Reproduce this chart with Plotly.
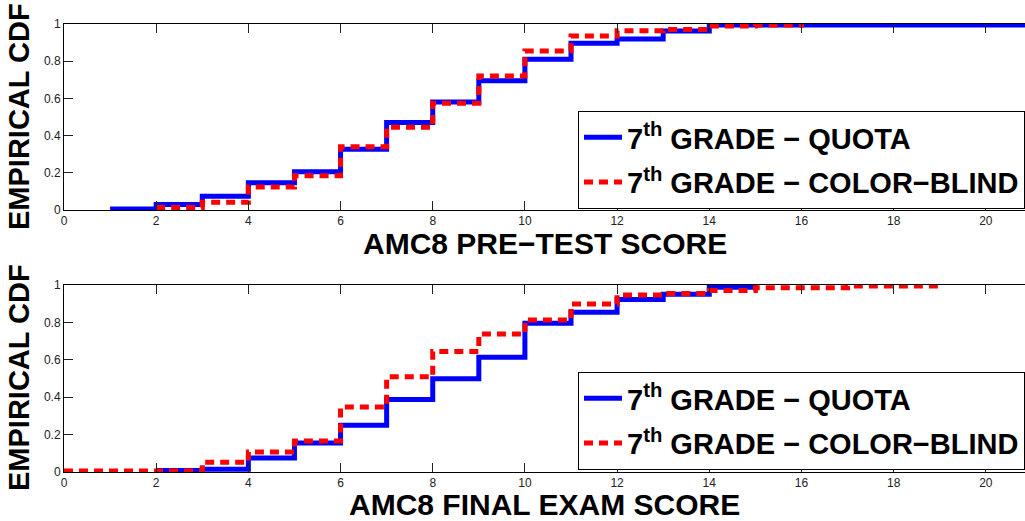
import plotly.graph_objects as go

# Empirical CDF step data (score where the step occurs, cumulative fraction after it)
pre_quota_x = [1, 2, 3, 4, 5, 6, 7, 8, 9, 10, 11, 12, 13, 14, 21]
pre_quota_y = [0.005, 0.03, 0.074, 0.147, 0.206, 0.326, 0.47, 0.58, 0.695, 0.81, 0.896, 0.919, 0.962, 0.995, 0.995]

pre_blind_x = [2, 3, 4, 5, 6, 7, 8, 9, 10, 11, 12, 13, 14, 15, 16]
pre_blind_y = [0.014, 0.041, 0.124, 0.184, 0.34, 0.445, 0.574, 0.72, 0.855, 0.935, 0.964, 0.971, 0.989, 0.995, 1.0]

final_quota_x = [2, 3, 4, 5, 6, 7, 8, 9, 10, 11, 12, 13, 14, 15]
final_quota_y = [0.008, 0.015, 0.075, 0.155, 0.25, 0.388, 0.498, 0.613, 0.795, 0.854, 0.923, 0.95, 0.988, 1.0]

final_blind_x = [0, 3, 4, 5, 6, 7, 8, 9, 10, 11, 12, 13, 14, 15, 17, 19]
final_blind_y = [0.005, 0.052, 0.107, 0.166, 0.348, 0.509, 0.645, 0.738, 0.813, 0.898, 0.946, 0.955, 0.97, 0.985, 0.995, 1.0]

x_ticks = [0, 2, 4, 6, 8, 10, 12, 14, 16, 18, 20]
y_ticks = [0, 0.2, 0.4, 0.6, 0.8, 1]
y_tick_text = ["0", "0.2", "0.4", "0.6", "0.8", "1"]

series_names = ["7<sup>th</sup> GRADE \u2212 QUOTA", "7<sup>th</sup> GRADE \u2212 COLOR\u2212BLIND"]
x_titles = ["AMC8 PRE\u2212TEST SCORE", "AMC8 FINAL EXAM SCORE"]
y_title = "EMPIRICAL CDF"

W, H = 1025, 521
FONT = "Liberation Sans, Arial, Helvetica, sans-serif"
BLUE = "#0000ff"
RED = "#ff0000"

fig = go.Figure()

panels = [
    (pre_quota_x, pre_quota_y, pre_blind_x, pre_blind_y, "x", "y", "legend"),
    (final_quota_x, final_quota_y, final_blind_x, final_blind_y, "x2", "y2", "legend2"),
]
for i, (qx, qy, bx, by, xa, ya, lg) in enumerate(panels):
    fig.add_trace(go.Scatter(
        x=qx, y=qy, mode="lines", line=dict(color=BLUE, width=5, shape="hv"),
        name=series_names[0], xaxis=xa, yaxis=ya, legend=lg, legendgroup="q%d" % i,
    ))
    fig.add_trace(go.Scatter(
        x=bx, y=by, mode="lines", line=dict(color=RED, width=5, shape="hv", dash="9px,6px"),
        name=series_names[1], xaxis=xa, yaxis=ya, legend=lg, legendgroup="b%d" % i,
    ))

x_dom = [64 / W, 1.0]
top_dom = [1 - 210 / H, 1 - 24 / H]
bot_dom = [1 - 472 / H, 1 - 285 / H]

axis_common = dict(
    showline=True, linecolor="black", linewidth=1,
    ticks="inside", ticklen=9, tickwidth=1, tickcolor="#222",
    showgrid=False, zeroline=False,
    tickfont=dict(family=FONT, size=12, color="#222"),
)

legend_common = dict(
    xanchor="left", yanchor="top",
    bgcolor="white", bordercolor="black", borderwidth=1,
    font=dict(family=FONT, size=29, color="black", weight="bold"),
    tracegroupgap=4, itemwidth=38,
)

fig.update_layout(
    width=W, height=H,
    # legends run off the right edge; keep them from pushing the plot area
    margin=dict(l=0, r=0, t=0, b=0, autoexpand=False),
    paper_bgcolor="white", plot_bgcolor="white",
    showlegend=True,
    xaxis=dict(domain=x_dom, anchor="y", range=[0, 20.85], tickvals=x_ticks,
               mirror="ticks", **axis_common),
    yaxis=dict(domain=top_dom, anchor="x", range=[0, 1], tickvals=y_ticks,
               ticktext=y_tick_text, **axis_common),
    xaxis2=dict(domain=x_dom, anchor="y2", range=[0, 20.85], tickvals=x_ticks,
                mirror="ticks", **axis_common),
    yaxis2=dict(domain=bot_dom, anchor="x2", range=[0, 1], tickvals=y_ticks,
                ticktext=y_tick_text, **axis_common),
    legend=dict(x=578 / W, y=1 - 111 / H, **legend_common),
    legend2=dict(x=578 / W, y=1 - 372 / H, **legend_common),
)

x_title_font = dict(family=FONT, size=30, color="black")
y_title_font = dict(family=FONT, size=29, color="black")
for title, yc in zip(x_titles, [243, 504]):
    fig.add_annotation(text="<b>%s</b>" % title, xref="paper", yref="paper",
                       x=(64 + W) / 2 / W, y=1 - yc / H, xanchor="center", yanchor="middle",
                       showarrow=False, font=x_title_font)
for yc in [117, 378]:
    fig.add_annotation(text="<b>%s</b>" % y_title, xref="paper", yref="paper",
                       x=19 / W, y=1 - yc / H, xanchor="center", yanchor="middle",
                       textangle=-90, showarrow=False, font=y_title_font)

fig.write_html("out.html")
